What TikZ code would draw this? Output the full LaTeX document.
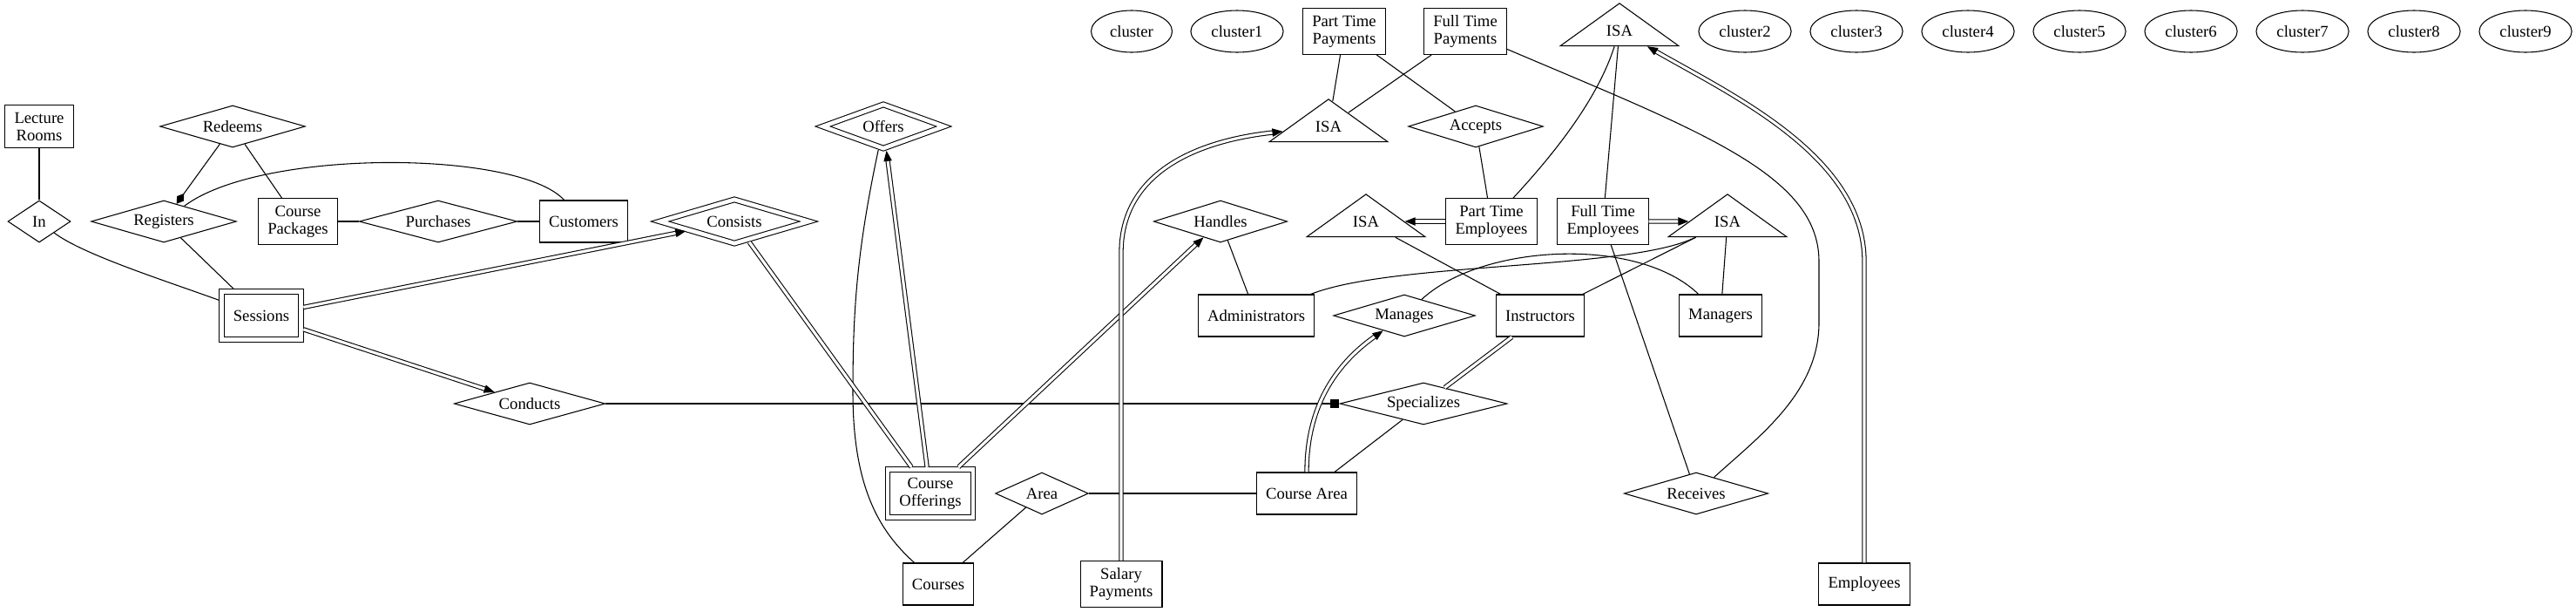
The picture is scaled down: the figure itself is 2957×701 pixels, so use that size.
\documentclass[tikz,border=0pt]{standalone}
\usepackage{fontspec}
\setmainfont{Liberation Serif}
\usetikzlibrary{shapes.geometric,arrows.meta}

\tikzset{
  every node/.style={font=\fontsize{14}{15}\selectfont},
  entity/.style={draw, rectangle, align=center, line width=0.8pt, minimum width=54pt, minimum height=36pt, inner xsep=8pt, inner ysep=6pt},
  weak/.style={entity, double, double distance=3.5pt, inner xsep=10pt, inner ysep=6.5pt, minimum height=41pt, outer sep=2.2pt},
  rel/.style={draw, diamond, line width=0.8pt, aspect=4, inner sep=0pt, minimum height=36pt, minimum width=#1},
  weakrel/.style={rel=#1, double, double distance=3.5pt, minimum height=39.5pt, outer sep=2.2pt},
  isa/.style={draw, isosceles triangle, shape border rotate=90, isosceles triangle stretches, line width=0.8pt, minimum width=102pt, minimum height=35pt, inner sep=0pt},
  cluster/.style={draw, ellipse, line width=0.8pt, minimum height=36pt, inner xsep=6pt, inner ysep=2pt},
  link/.style={line width=0.8pt},
  total/.style={line width=0.8pt, double, double distance=2.4pt},
  tip/.style={-{Triangle[length=9pt,width=7pt]}},
  keytip/.style={-{Diamond[length=11pt,width=7pt]}},
  boxtip/.style={-{Square[length=8pt,width=8pt]}}
}

\begin{document}
\begin{tikzpicture}[x=0.75pt, y=-0.75pt]
    \useasboundingbox (0,0) rectangle (2957,701);

    % Left part: rooms, sessions, customers
    \node[entity] (lecture) at (45,145) {Lecture\\Rooms};
    \node[rel=54pt] (in) at (45,254) {In};
    \node[rel=125pt] (redeems) at (267,145) {Redeems};
    \node[rel=125pt] (registers) at (188,254) {Registers};
    \node[entity] (packages) at (342,254) {Course\\Packages};
    \node[rel=136pt] (purchases) at (503,254) {Purchases};
    \node[entity] (customers) at (670,254) {Customers};
    \node[weak] (sessions) at (300,362) {Sessions};
    \node[rel=130pt] (conducts) at (608,463) {Conducts};
    \node[weakrel=130pt] (consists) at (843,254) {Consists};

    % Middle part: offerings and courses
    \node[weakrel=106pt] (offers) at (1014,145) {Offers};
    \node[weak] (offerings) at (1068,566) {Course\\Offerings};
    \node[entity] (courses) at (1077,670) {Courses};
    \node[rel=80pt] (area) at (1196,566) {Area};
    \node[entity] (coursearea) at (1500,566) {Course Area};
    \node[entity] (salary) at (1287,670) {Salary\\Payments};
    \node[rel=115pt] (handles) at (1401,254) {Handles};
    \node[entity] (admins) at (1442,362) {Administrators};

    % Right part: employees and payments
    \node[entity] (ptp) at (1543,36) {Part Time\\Payments};
    \node[entity] (ftp) at (1682,36) {Full Time\\Payments};
    \node[isa] (isapay) at (1525,145) {ISA};
    \node[rel=116pt] (accepts) at (1694,145) {Accepts};
    \node[isa] (isaemp) at (1859,35) {ISA};
    \node[entity] (pte) at (1712,254) {Part Time\\Employees};
    \node[entity] (fte) at (1840,254) {Full Time\\Employees};
    \node[isa] (isapt) at (1568,254) {ISA};
    \node[isa] (isaft) at (1983,254) {ISA};
    \node[rel=122pt] (manages) at (1612,362) {Manages};
    \node[entity] (instructors) at (1768,362) {Instructors};
    \node[entity] (managers) at (1975,362) {Managers};
    \node[rel=144pt] (specializes) at (1634,463) {Specializes};
    \node[rel=124pt] (receives) at (1947,566) {Receives};
    \node[entity] (employees) at (2140,670) {Employees};

    % Cluster placeholders
    \node[cluster] (cl0) at (1299,36) {cluster};
    \node[cluster] (cl1) at (1420,36) {cluster1};
    \node[cluster] (cl2) at (2003,36) {cluster2};
    \node[cluster] (cl3) at (2131,36) {cluster3};
    \node[cluster] (cl4) at (2259,36) {cluster4};
    \node[cluster] (cl5) at (2387,36) {cluster5};
    \node[cluster] (cl6) at (2515,36) {cluster6};
    \node[cluster] (cl7) at (2643,36) {cluster7};
    \node[cluster] (cl8) at (2771,36) {cluster8};
    \node[cluster] (cl9) at (2899,36) {cluster9};

    % Plain links
    \draw[link] (lecture) -- (in);
    \draw[link] (in) .. controls (95,292) and (190,322) .. (sessions);
    \draw[link, keytip] (redeems) -- (registers);
    \draw[link] (redeems) -- (packages);
    \draw[link] (customers) .. controls (595,172) and (300,170) .. (registers);
    \draw[link] (packages) -- (purchases);
    \draw[link] (purchases) -- (customers);
    \draw[link] (registers) -- (sessions);
    \draw[link, boxtip] (conducts) -- (specializes);
    \draw[link] (offers) .. controls (983,290) and (979,360) .. (979,450)
        .. controls (979,560) and (1010,610) .. (courses);
    \draw[link] (courses) -- (area);
    \draw[link] (area) -- (coursearea);
    \draw[link] (coursearea) -- (specializes);
    \draw[link] (handles) -- (admins);
    \draw[link] (ptp) -- (isapay);
    \draw[link] (ftp) -- (isapay);
    \draw[link] (ptp) -- (accepts);
    \draw[link] (accepts) -- (pte);
    \draw[link] (isaemp) .. controls (1835,110) and (1790,170) .. (pte);
    \draw[link] (isaemp) -- (fte);
    \draw[link] (isapt) -- (instructors);
    \draw[link] (isaft) -- (instructors);
    \draw[link] (isaft) .. controls (1870,310) and (1600,300) .. (admins);
    \draw[link] (isaft) -- (managers);
    \draw[link] (manages) .. controls (1700,280) and (1880,270) .. (managers);
    \draw[link] (fte) -- (receives);
    \draw[link] (ftp) .. controls (1950,150) and (2088,200) .. (2088,300) -- (2088,370)
        .. controls (2088,450) and (2020,500) .. (receives);

    % Total participation (double lines)
    \draw[total, tip] (sessions) -- (consists);
    \draw[total, tip] (sessions) -- (conducts);
    \draw[total] (offerings) -- (consists);
    \draw[total, tip] (offerings) -- (offers);
    \draw[total, tip] (offerings) -- (handles);
    \draw[total, tip] (salary) -- (1287,290) .. controls (1287,200) and (1370,162) .. (isapay);
    \draw[total, tip] (employees) -- (2140,300) .. controls (2140,180) and (1990,110) .. (isaemp);
    \draw[total, tip] (pte) -- (isapt);
    \draw[total, tip] (fte) -- (isaft);
    \draw[total, tip] (coursearea) .. controls (1500,470) and (1530,420) .. (manages);
    \draw[total] (instructors) -- (specializes);
\end{tikzpicture}
\end{document}
